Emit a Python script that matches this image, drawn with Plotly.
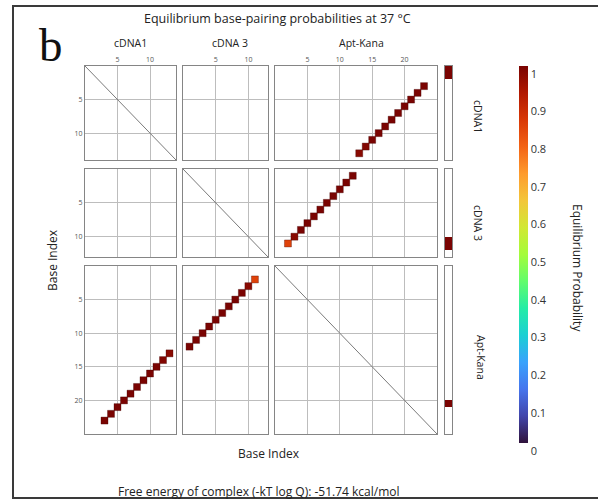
import plotly.graph_objects as go

# ---------------- data ----------------
strands = ["cDNA1", "cDNA 3", "Apt-Kana"]
lengths = [14, 13, 25]

tick_short = [5, 10]
tick_long = [5, 10, 15, 20]

# cDNA1 : Apt-Kana base pairs
c1_bases = [3, 4, 5, 6, 7, 8, 9, 10, 11, 12, 13]
c1_apt_bases = [23, 22, 21, 20, 19, 18, 17, 16, 15, 14, 13]
c1_apt_prob = [1.0, 1.0, 1.0, 1.0, 1.0, 1.0, 1.0, 1.0, 1.0, 0.99, 0.98]

# cDNA 3 : Apt-Kana base pairs
c3_bases = [1, 2, 3, 4, 5, 6, 7, 8, 9, 10, 11]
c3_apt_bases = [12, 11, 10, 9, 8, 7, 6, 5, 4, 3, 2]
c3_apt_prob = [1.0, 1.0, 1.0, 1.0, 1.0, 1.0, 1.0, 1.0, 1.0, 0.98, 0.84]

# unpaired probability per base (side bars)
unpaired_c1 = [1.0, 1.0, 0, 0, 0, 0, 0, 0, 0, 0, 0, 0, 0, 0]
unpaired_c3 = [0, 0, 0, 0, 0, 0, 0, 0, 0, 0, 1.0, 1.0, 0]
unpaired_apt = [0, 0, 0, 0, 0, 0, 0, 0, 0, 0, 0, 0, 0, 0, 0, 0, 0, 0, 0, 0, 1.0, 0, 0, 0, 0]

colorbar_ticks = [0, 0.1, 0.2, 0.3, 0.4, 0.5, 0.6, 0.7, 0.8, 0.9, 1]
colorbar_labels = ["0", "0.1", "0.2", "0.3", "0.4", "0.5", "0.6", "0.7", "0.8", "0.9", "1"]

title_text = "Equilibrium base-pairing probabilities at 37 °C"
energy_text = "Free energy of complex (-kT log Q): -51.74 kcal/mol"

# ---------------- layout geometry (pixels) ----------------
W, H = 598, 499
col_px = [(85, 176), (183, 268), (275, 437)]
bar_px = (445, 452)
row_px = [(66, 160), (169, 257), (266, 434)]
FONT = "Open Sans"


def xd(a, b):
    return [a / W, b / W]


def yd(a, b):
    return [1 - b / H, 1 - a / H]


def px(x):
    return x / W


def py(y):
    return 1 - y / H


fig = go.Figure()
layout = {}

ticks_for = [tick_short, tick_short, tick_long]
unpaired = [unpaired_c1, unpaired_c3, unpaired_apt]

pair_sets = {
    (0, 2): (c1_apt_bases, c1_bases, c1_apt_prob),
    (2, 0): (c1_bases, c1_apt_bases, c1_apt_prob),
    (1, 2): (c3_apt_bases, c3_bases, c3_apt_prob),
    (2, 1): (c3_bases, c3_apt_bases, c3_apt_prob),
}

border = "#858585"
gridc = "#bdbdbd"
first_marker = True

for r in range(3):
    for c in range(4):
        k = r * 4 + c + 1
        xa = "x" if k == 1 else f"x{k}"
        ya = "y" if k == 1 else f"y{k}"
        xkey = "xaxis" if k == 1 else f"xaxis{k}"
        ykey = "yaxis" if k == 1 else f"yaxis{k}"
        if c < 3:
            Lc, Lr = lengths[c], lengths[r]
            layout[xkey] = dict(
                domain=xd(*col_px[c]), anchor=ya, range=[0, Lc],
                tickvals=ticks_for[c], showticklabels=(r == 0), side="top",
                ticks="", showgrid=True, gridcolor=gridc, gridwidth=1,
                zeroline=False, showline=True, linecolor=border, linewidth=1.3,
                mirror=True, tickfont=dict(size=7, color="#555", family=FONT),
                fixedrange=True,
            )
            layout[ykey] = dict(
                domain=yd(*row_px[r]), anchor=xa, range=[Lr, 0],
                tickvals=ticks_for[r], showticklabels=(c == 0),
                ticks="", showgrid=True, gridcolor=gridc, gridwidth=1,
                zeroline=False, showline=True, linecolor=border, linewidth=1.3,
                mirror=True, tickfont=dict(size=7, color="#555", family=FONT),
                fixedrange=True,
            )
            # placeholder trace so that every panel is drawn
            fig.add_trace(go.Scatter(x=[None], y=[None], mode="markers",
                                     xaxis=xa, yaxis=ya, showlegend=False,
                                     hoverinfo="skip"))
            if r == c:
                fig.add_trace(go.Scatter(
                    x=[0, Lc], y=[0, Lr], mode="lines",
                    line=dict(color="#7a7a7a", width=1),
                    xaxis=xa, yaxis=ya, showlegend=False, hoverinfo="skip"))
            if (r, c) in pair_sets:
                xs, ys, ps = pair_sets[(r, c)]
                mk = dict(symbol="square", size=7, color=ps, colorscale="Turbo",
                          cmin=0, cmax=1,
                          line=dict(width=0.6, color="rgba(60,0,0,0.55)"))
                if first_marker:
                    mk.update(showscale=True, colorbar=dict(
                        x=px(519), xanchor="left", xpad=0,
                        y=py(66), yanchor="top", ypad=0,
                        len=(443 - 66) / H, lenmode="fraction",
                        thickness=9, outlinewidth=0,
                        tickvals=colorbar_ticks, ticktext=colorbar_labels,
                        ticks="", ticklabelposition="outside bottom",
                        tickfont=dict(size=11, color="#333", family=FONT)))
                    first_marker = False
                fig.add_trace(go.Scatter(
                    x=xs, y=ys, mode="markers", marker=mk,
                    xaxis=xa, yaxis=ya, showlegend=False))
        else:
            Lr = lengths[r]
            vals = unpaired[r]
            z = [[v if v > 0.05 else None] for v in vals]
            ycent = [i + 0.5 for i in range(Lr)]
            fig.add_trace(go.Heatmap(
                z=z, x=[0], y=ycent, colorscale="Turbo", zmin=0, zmax=1,
                showscale=False, xaxis=xa, yaxis=ya, hoverinfo="skip"))
            layout[xkey] = dict(domain=xd(*bar_px), anchor=ya, range=[-0.5, 0.5],
                                showticklabels=False, ticks="", showgrid=False,
                                zeroline=False, showline=True, linecolor=border,
                                linewidth=1.3, mirror=True, fixedrange=True)
            layout[ykey] = dict(domain=yd(*row_px[r]), anchor=xa, range=[Lr, 0],
                                showticklabels=False, ticks="", showgrid=False,
                                zeroline=False, showline=True, linecolor=border,
                                linewidth=1.3, mirror=True, fixedrange=True)

annotations = []


def ann(text, x, y, size, angle=0, family=FONT, color="#222"):
    annotations.append(dict(text=text, x=px(x), y=py(y), xref="paper", yref="paper",
                            showarrow=False, xanchor="center", yanchor="middle",
                            textangle=angle, font=dict(size=size, family=family, color=color)))


ann(title_text, 277, 18, 12.5)
ann("b", 51, 45, 47, family="Liberation Serif", color="#111")
header_x = [130, 230, 361]
for name, hx in zip(strands, header_x):
    ann(name, hx, 43, 10.5)
row_label_pos = [(478, 116), (478, 223), (481, 357)]
for name, (rx, ry) in zip(strands, row_label_pos):
    ann(name, rx, ry, 10.5, angle=90)
ann("Base Index", 52, 260, 12, angle=-90)
ann("Base Index", 268.5, 453, 12)
ann("Equilibrium Probability", 578, 268, 12, angle=90)
ann(energy_text, 258.5, 491, 12)

line_col = "#3a3a3a"
shapes = [
    dict(type="line", xref="paper", yref="paper", x0=px(12), x1=px(598), y0=py(6), y1=py(6),
         line=dict(color=line_col, width=2)),
    dict(type="line", xref="paper", yref="paper", x0=px(13), x1=px(13), y0=py(6), y1=py(498),
         line=dict(color=line_col, width=2)),
    dict(type="line", xref="paper", yref="paper", x0=px(12), x1=px(598), y0=py(498), y1=py(498),
         line=dict(color=line_col, width=2)),
]

fig.update_layout(
    width=W, height=H, margin=dict(l=0, r=0, t=0, b=0),
    paper_bgcolor="white", plot_bgcolor="white",
    annotations=annotations, shapes=shapes, showlegend=False,
    font=dict(family=FONT),
    **layout,
)

fig.write_html("out.html", config={"displayModeBar": False})
